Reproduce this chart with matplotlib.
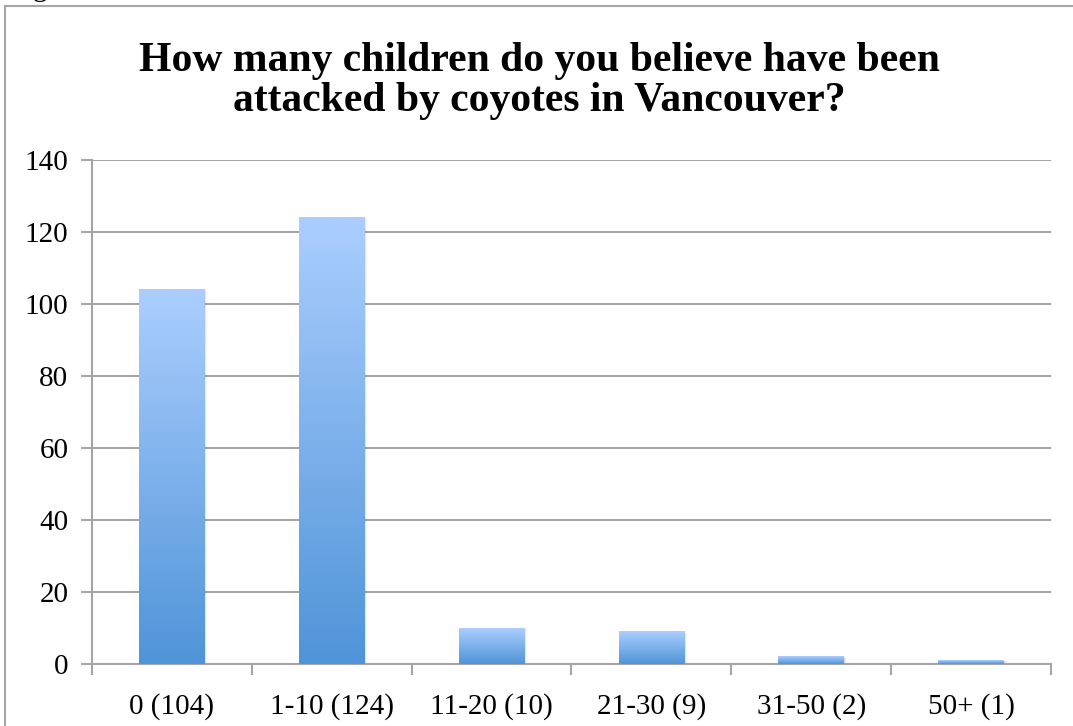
import numpy as np
import matplotlib
matplotlib.use('Agg')
import matplotlib.pyplot as plt
from matplotlib.colors import LinearSegmentedColormap
from matplotlib.patches import Rectangle
from matplotlib.lines import Line2D

categories = ['0 (104)', '1-10 (124)', '11-20 (10)', '21-30 (9)', '31-50 (2)', '50+ (1)']
counts = [104, 124, 10, 9, 2, 1]
yticks = [0, 20, 40, 60, 80, 100, 120, 140]
title = 'How many children do you believe have been\nattacked by coyotes in Vancouver?'

plt.rcParams['font.family'] = ['Liberation Serif', 'DejaVu Serif']
grey = '#a6a6a6'

fig = plt.figure(figsize=(10.73, 7.26), dpi=100)
ax = fig.add_axes([92 / 1073, 62 / 726, (1051 - 92) / 1073, (664 - 160) / 726])

# blue gradient, light at the top, darker at the base
cmap = LinearSegmentedColormap.from_list('bar', ['#4f94d8', '#abcefe'])
grad = np.linspace(0, 1, 256).reshape(-1, 1)
width = 0.41
x = np.arange(len(categories))
for xi, h in zip(x, counts):
    # soft shadow on the right side
    for k, a in enumerate([0.08, 0.05, 0.03]):
        off = 0.005 + k * 0.006
        ax.add_patch(Rectangle((xi - width / 2 + off, 0), width, h - 0.3,
                               facecolor='black', alpha=a, lw=0, zorder=2))
    ax.imshow(grad, cmap=cmap, origin='lower', aspect='auto',
              extent=[xi - width / 2, xi + width / 2, 0, h], zorder=3)

ax.set_xlim(-0.5, len(categories) - 0.5)
ax.set_ylim(0, 140)
ax.set_yticks(yticks)
ax.set_yticklabels([str(v) for v in yticks], fontsize=21)
ax.set_xticks(x)
ax.set_xticklabels(categories, fontsize=21)
ax.set_xticks(np.arange(-0.5, len(categories)), minor=True)
ax.tick_params(axis='x', which='major', length=0, pad=21)
ax.tick_params(axis='x', which='minor', length=8, width=1.5, color=grey, direction='out')
ax.tick_params(axis='y', length=8, width=1.5, color=grey, direction='out', pad=9)

ax.grid(axis='y', color=grey, lw=1.5, zorder=1)
ax.set_axisbelow(True)
for s in ['top', 'right']:
    ax.spines[s].set_visible(False)
for s in ['left', 'bottom']:
    ax.spines[s].set_color(grey)
    ax.spines[s].set_linewidth(1.5)

fig.text(0.503, 1 - 81 / 726, title, ha='center', va='center',
         fontsize=30, fontweight='bold', linespacing=1.05)

# frame around the chart
fig.add_artist(Line2D([5 / 1073, 5 / 1073], [0, 1 - 6 / 726], color=grey, lw=1.5))
fig.add_artist(Line2D([5 / 1073, 1], [1 - 6 / 726, 1 - 6 / 726], color=grey, lw=1.5))
# caption text above the frame, mostly cropped
fig.text(33 / 1073, 1 + 4 / 726, 'g', ha='left', va='baseline', fontsize=21)

fig.savefig('out.png', dpi=100)
